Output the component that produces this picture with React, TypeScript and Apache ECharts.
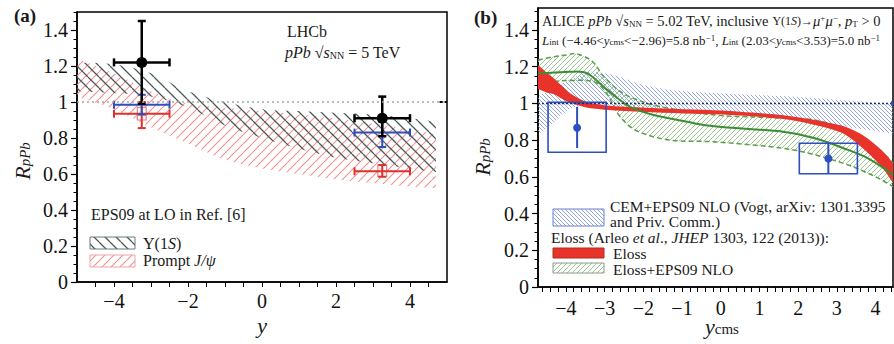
import React, { useEffect, useRef } from 'react';
import * as echarts from 'echarts';

const SERIF = 'Liberation Serif';

// ---------- tick labels ----------
const aXLabels = [-4, -2, 0, 2, 4];
const bXLabels = [-4, -3, -2, -1, 0, 1, 2, 3, 4];
const yLabels = [0, 0.2, 0.4, 0.6, 0.8, 1, 1.2, 1.4];

// ---------- panel (a): EPS09 LO bands ----------
const upsBandX = [-5, -4, -3, -2, -1, 0, 1, 2, 3, 4, 4.7];
const upsBandHi = [1.22, 1.21, 1.16, 1.06, 1.0, 0.96, 0.95, 0.94, 0.93, 0.91, 0.89];
const upsBandLo = [1.06, 1.05, 1.03, 0.97, 0.87, 0.8, 0.74, 0.69, 0.66, 0.63, 0.61];

const psiBandX = [-5, -4, -3, -2, -1, 0, 1, 2, 3, 4, 4.7];
const psiBandHi = [1.24, 1.16, 1.06, 0.99, 0.97, 0.95, 0.93, 0.91, 0.88, 0.85, 0.82];
const psiBandLo = [1.03, 0.96, 0.86, 0.77, 0.68, 0.63, 0.6, 0.57, 0.55, 0.53, 0.52];

// ---------- panel (a): LHCb points ----------
const lhcbX = [-3.25, 3.25];
const lhcbXLo = [-4, 2.5];
const lhcbXHi = [-2.5, 4];
const upsY = [1.22, 0.91];
const upsYLo = [0.99, 0.81];
const upsYHi = [1.45, 1.03];
const bPsiY = [0.985, 0.83];
const bPsiYLo = [0.93, 0.75];
const bPsiYHi = [1.04, 0.89];
const promptY = [0.935, 0.615];
const promptYLo = [0.855, 0.585];
const promptYHi = [1.0, 0.65];
const promptSysLo = [0.9, 0.585];
const promptSysHi = [0.97, 0.65];

// ---------- panel (b): CEM+EPS09 NLO band ----------
const cemX = [-4.72, -4.3, -3.9, -3.45, -3.0, -2.6, -2.16, -1.3, -0.07, 1, 2, 3, 4, 4.45];
const cemHi = [1.04, 1.08, 1.13, 1.17, 1.165, 1.145, 1.11, 1.073, 1.055, 1.045, 1.035, 1.02, 1.005, 1.0];
const cemLo = [0.83, 0.9, 0.97, 0.99, 0.99, 0.98, 0.97, 0.955, 0.948, 0.935, 0.91, 0.88, 0.85, 0.835];

// ---------- panel (b): Eloss band ----------
const elossX = [-4.72, -4.5, -4.3, -4.1, -3.9, -3.6, -3.3, -2.6, -1.5, -0.44, 0.5, 1.57, 2.43, 3.0, 3.29, 3.72, 4.15, 4.45];
const elossLo = [1.08, 1.06, 1.05, 1.025, 1.005, 0.985, 0.972, 0.96, 0.95, 0.943, 0.935, 0.916, 0.883, 0.85, 0.82, 0.747, 0.656, 0.567];
const elossHi = [1.21, 1.17, 1.135, 1.095, 1.057, 1.02, 1.0, 0.983, 0.972, 0.965, 0.955, 0.937, 0.91, 0.885, 0.867, 0.82, 0.747, 0.676];

// ---------- panel (b): Eloss+EPS09 NLO band ----------
const egCenterX = [-4.72, -4.3, -3.89, -3.45, -3.02, -2.67, -2.33, -1.73, -0.87, -0.1, 1.57, 2.43, 3.29, 3.72, 4.15, 4.45];
const egCenterY = [1.164, 1.168, 1.173, 1.164, 1.09, 1.03, 0.98, 0.937, 0.9, 0.874, 0.847, 0.81, 0.747, 0.71, 0.656, 0.61];
const egHiX = [-4.72, -4.3, -3.97, -3.72, -3.32, -3.02, -2.59, -2.16, -1.5, -0.15, 1.0, 2.43, 3.29, 3.8, 4.15, 4.45];
const egHiY = [1.237, 1.255, 1.264, 1.27, 1.23, 1.146, 1.064, 1.02, 0.98, 0.937, 0.925, 0.91, 0.846, 0.79, 0.738, 0.676];
const egLoX = [-4.72, -4.3, -3.9, -3.3, -3.0, -2.8, -2.6, -2.16, -1.3, -0.1, 1.57, 2.43, 3.29, 3.8, 4.15, 4.45];
const egLoY = [1.11, 1.12, 1.125, 1.12, 1.07, 1.0, 0.928, 0.85, 0.8, 0.79, 0.757, 0.72, 0.665, 0.62, 0.584, 0.547];

// ---------- panel (b): ALICE points ----------
const aliceX = [-3.71, 2.78];
const aliceY = [0.868, 0.7];
const aliceStatLo = [0.757, 0.617];
const aliceStatHi = [0.982, 0.783];
const aliceBinLo = [-4.46, 2.03];
const aliceBinHi = [-2.96, 3.53];
const aliceSysLo = [0.734, 0.617];
const aliceSysHi = [1.006, 0.783];

// tick positions
const aXTicks = Array.from({ length: 19 }, (_, i) => -4.5 + i * 0.5);
const bXTicks = Array.from({ length: 46 }, (_, i) => Math.round((-4.6 + i * 0.2) * 10) / 10);
const yMinorTicks = Array.from({ length: 31 }, (_, i) => Math.round(i * 5) / 100);

function hatch(size: number, color: string, lw: number, dir: string) {
  const c = document.createElement('canvas');
  c.width = size;
  c.height = size;
  const ctx = c.getContext('2d')!;
  ctx.strokeStyle = color;
  ctx.lineWidth = lw;
  ctx.beginPath();
  for (const o of [-size, 0, size]) {
    if (dir === '/') {
      ctx.moveTo(o, size);
      ctx.lineTo(o + size, 0);
    } else {
      ctx.moveTo(o, 0);
      ctx.lineTo(o + size, size);
    }
  }
  ctx.stroke();
  return { image: c, repeat: 'repeat', imageWidth: size, imageHeight: size } as any;
}

function smoothSeg(pts: number[][]) {
  let d = '';
  for (let i = 0; i < pts.length - 1; i++) {
    const p0 = pts[i - 1] || pts[i];
    const p1 = pts[i];
    const p2 = pts[i + 1];
    const p3 = pts[i + 2] || p2;
    const c1 = [p1[0] + (p2[0] - p0[0]) / 6, p1[1] + (p2[1] - p0[1]) / 6];
    const c2 = [p2[0] - (p3[0] - p1[0]) / 6, p2[1] - (p3[1] - p1[1]) / 6];
    d += ` C${c1[0]},${c1[1]} ${c2[0]},${c2[1]} ${p2[0]},${p2[1]}`;
  }
  return d;
}
function openPath(pts: number[][]) {
  return `M${pts[0][0]},${pts[0][1]}` + smoothSeg(pts);
}
function bandPath(up: number[][], lo: number[][]) {
  const lr = lo.slice().reverse();
  return openPath(up) + ` L${lr[0][0]},${lr[0][1]}` + smoothSeg(lr) + ' Z';
}

function bandSeries(ax: number, hx: number[], hy: number[], lx: number[], ly: number[], fill: any, edge?: any) {
  return {
    type: 'custom',
    xAxisIndex: ax,
    yAxisIndex: ax,
    silent: true,
    data: [[hx[0], hy[0]]],
    encode: { x: 0, y: 1 },
    renderItem: (_p: any, api: any) => {
      const up = hx.map((x, i) => api.coord([x, hy[i]]));
      const lo = lx.map((x, i) => api.coord([x, ly[i]]));
      const children: any[] = [
        { type: 'path', shape: { pathData: bandPath(up, lo) }, style: { fill, stroke: null } },
      ];
      if (edge) {
        children.push({ type: 'path', shape: { pathData: openPath(up) }, style: { fill: null, ...edge } });
        children.push({ type: 'path', shape: { pathData: openPath(lo) }, style: { fill: null, ...edge } });
      }
      return { type: 'group', children };
    },
  };
}

function curveSeries(ax: number, xs: number[], ys: number[], style: any) {
  return {
    type: 'custom',
    xAxisIndex: ax,
    yAxisIndex: ax,
    silent: true,
    data: [[xs[0], ys[0]]],
    encode: { x: 0, y: 1 },
    renderItem: (_p: any, api: any) => {
      const pts = xs.map((x, i) => api.coord([x, ys[i]]));
      return { type: 'path', shape: { pathData: openPath(pts) }, style: { fill: null, ...style } };
    },
  };
}

function ln(x1: number, y1: number, x2: number, y2: number, stroke: string, lineWidth: number) {
  return { type: 'line', shape: { x1, y1, x2, y2 }, style: { stroke, lineWidth } };
}

function lhcbSeries(ys: number[], lo: number[], hi: number[], color: string, lw: number, kind: string, sysLo?: number[], sysHi?: number[]) {
  return {
    type: 'custom',
    xAxisIndex: 0,
    yAxisIndex: 0,
    silent: true,
    data: lhcbX.map((x, i) => [x, ys[i], lhcbXLo[i], lhcbXHi[i], lo[i], hi[i], sysLo ? sysLo[i] : ys[i], sysHi ? sysHi[i] : ys[i]]),
    encode: { x: 0, y: 1 },
    renderItem: (_p: any, api: any) => {
      const x = api.value(0);
      const y = api.value(1);
      const c = api.coord([x, y]);
      const l = api.coord([api.value(2), y]);
      const r = api.coord([api.value(3), y]);
      const b = api.coord([x, api.value(4)]);
      const t = api.coord([x, api.value(5)]);
      const cap = 4;
      const ch: any[] = [];
      if (kind === 'box') {
        const s1 = api.coord([x - 0.12, api.value(7)]);
        const s2 = api.coord([x + 0.12, api.value(6)]);
        ch.push({
          type: 'rect',
          shape: { x: s1[0], y: s1[1], width: s2[0] - s1[0], height: s2[1] - s1[1] },
          style: { fill: 'rgba(255,255,255,0.75)', stroke: '#e98080', lineWidth: 1.2 },
        });
      }
      ch.push(ln(l[0], c[1], r[0], c[1], color, lw));
      ch.push(ln(c[0], b[1], c[0], t[1], color, lw));
      ch.push(ln(l[0], c[1] - cap, l[0], c[1] + cap, color, lw));
      ch.push(ln(r[0], c[1] - cap, r[0], c[1] + cap, color, lw));
      ch.push(ln(c[0] - cap, t[1], c[0] + cap, t[1], color, lw));
      ch.push(ln(c[0] - cap, b[1], c[0] + cap, b[1], color, lw));
      if (kind === 'dot') {
        ch.push({ type: 'circle', shape: { cx: c[0], cy: c[1], r: 5.5 }, style: { fill: color } });
      }
      return { type: 'group', children: ch };
    },
  };
}

const aliceSeries = {
  type: 'custom',
  xAxisIndex: 1,
  yAxisIndex: 1,
  silent: true,
  data: aliceX.map((x, i) => [x, aliceY[i], aliceStatLo[i], aliceStatHi[i], aliceBinLo[i], aliceBinHi[i], aliceSysLo[i], aliceSysHi[i]]),
  encode: { x: 0, y: 1 },
  renderItem: (_p: any, api: any) => {
    const x = api.value(0);
    const y = api.value(1);
    const c = api.coord([x, y]);
    const b = api.coord([x, api.value(2)]);
    const t = api.coord([x, api.value(3)]);
    const p1 = api.coord([api.value(4), api.value(7)]);
    const p2 = api.coord([api.value(5), api.value(6)]);
    const col = '#2d4fc0';
    return {
      type: 'group',
      children: [
        { type: 'rect', shape: { x: p1[0], y: p1[1], width: p2[0] - p1[0], height: p2[1] - p1[1] }, style: { fill: null, stroke: col, lineWidth: 1.6 } },
        ln(c[0], b[1], c[0], t[1], col, 2),
        { type: 'circle', shape: { cx: c[0], cy: c[1], r: 4 }, style: { fill: col } },
      ],
    };
  },
};

const txt = (x: number, y: number, text: string, size: number, rich: any = {}, extra: any = {}) => ({
  type: 'text',
  x,
  y,
  silent: true,
  ...extra,
  style: {
    text,
    fontFamily: SERIF,
    fontSize: size,
    lineHeight: size,
    fill: '#1a1a1a',
    align: 'left',
    verticalAlign: 'middle',
    rich,
    ...(extra.style || {}),
  },
});

const richBase = (size: number, small?: number) => {
  const s = small || Math.round(size * 0.65);
  return {
    i: { fontStyle: 'italic', fontFamily: SERIF, fontSize: size },
    sub: { fontFamily: SERIF, fontSize: s, verticalAlign: 'bottom', lineHeight: Math.round(size * 0.7) },
    sup: { fontFamily: SERIF, fontSize: s, verticalAlign: 'top', lineHeight: Math.round(size * 0.7) },
    sm: { fontFamily: SERIF, fontSize: Math.round(size * 0.8) },
    smi: { fontFamily: SERIF, fontStyle: 'italic', fontSize: Math.round(size * 0.8) },
  };
};

export default function App() {
  const ref = useRef<HTMLDivElement>(null);
  useEffect(() => {
    if (!ref.current) return;
    const chart = echarts.init(ref.current, null, { renderer: 'svg' });

    const greyHatch = hatch(11, '#4a5a5a', 1.3, '\\');
    const redHatch = hatch(9, '#f29090', 1.1, '/');
    const blueHatch = hatch(4, '#7890dc', 0.8, '\\');
    const greenHatch = hatch(5, '#93c285', 0.9, '/');

    const xAxisBase = (grid: number, min: number, max: number, ticks: number[], labels: number[], margin: number) => ({
      type: 'value',
      gridIndex: grid,
      min,
      max,
      splitLine: { show: false },
      axisLine: { show: true, onZero: false, lineStyle: { color: '#000', width: 1.5 } },
      axisTick: { show: true, customValues: ticks, length: 5, lineStyle: { color: '#000', width: 1 } },
      axisLabel: {
        customValues: labels,
        margin,
        fontFamily: SERIF,
        fontSize: 20,
        color: '#111',
        formatter: (v: number) => (v < 0 ? '\u2212' + Math.abs(v) : String(v)),
      },
    });
    const yAxisBase = (grid: number, max: number) => ({
      type: 'value',
      gridIndex: grid,
      min: 0,
      max,
      position: 'left',
      splitLine: { show: false },
      axisLine: { show: true, onZero: false, lineStyle: { color: '#000', width: 1.5 } },
      axisTick: { show: true, customValues: yMinorTicks, length: 3.5, lineStyle: { color: '#000', width: 1 } },
      axisLabel: { customValues: yLabels, margin: 9, fontFamily: SERIF, fontSize: 20, color: '#111' },
    });
    const yMajor = (grid: number, max: number) => ({
      type: 'value',
      gridIndex: grid,
      min: 0,
      max,
      position: 'left',
      splitLine: { show: false },
      axisLine: { show: false, onZero: false },
      axisTick: { show: true, customValues: yLabels, length: 6, lineStyle: { color: '#000', width: 1.2 } },
      axisLabel: { show: false },
    });

    const rA = richBase(16);
    const rL = richBase(15.5);
    const rB = richBase(14.5);
    const rC = richBase(13, 9);
    const rAx = {
      i: { fontStyle: 'italic', fontFamily: SERIF, fontSize: 22 },
      sub: { fontFamily: SERIF, fontSize: 15, verticalAlign: 'bottom', lineHeight: 14 },
      isub: { fontFamily: SERIF, fontStyle: 'italic', fontSize: 15, verticalAlign: 'bottom', lineHeight: 14 },
    };

    const option: any = {
      animation: false,
      backgroundColor: '#fff',
      textStyle: { fontFamily: SERIF },
      grid: [
        { left: 77, top: 12, width: 370, height: 270, show: true, borderColor: '#000', borderWidth: 1.5, backgroundColor: 'transparent' },
        { left: 538, top: 8, width: 355, height: 279, show: true, borderColor: '#000', borderWidth: 1.5, backgroundColor: 'transparent' },
      ],
      xAxis: [
        xAxisBase(0, -5, 5, aXTicks, aXLabels, 9),
        xAxisBase(1, -4.72, 4.45, bXTicks, bXLabels, 11),
      ],
      yAxis: [yAxisBase(0, 1.5), yAxisBase(1, 1.52), yMajor(0, 1.5), yMajor(1, 1.52)],
      series: [
        // panel (a)
        bandSeries(0, psiBandX, psiBandHi, psiBandX, psiBandLo, redHatch),
        bandSeries(0, upsBandX, upsBandHi, upsBandX, upsBandLo, greyHatch),
        {
          type: 'line', xAxisIndex: 0, yAxisIndex: 0, silent: true, symbol: 'none',
          data: [[-5, 1], [5, 1]],
          lineStyle: { color: '#a8a8a8', width: 1.6, type: [2, 3] },
        },
        {
          type: 'line', xAxisIndex: 0, yAxisIndex: 0, silent: true, symbol: 'none',
          data: [[4.8, 1], [5, 1]],
          lineStyle: { color: '#000', width: 2, type: [3, 2] },
        },
        lhcbSeries(promptY, promptYLo, promptYHi, '#e0302c', 2, 'box', promptSysLo, promptSysHi),
        lhcbSeries(bPsiY, bPsiYLo, bPsiYHi, '#2d4fc0', 2, 'none'),
        lhcbSeries(upsY, upsYLo, upsYHi, '#000', 2.5, 'dot'),
        // panel (b)
        bandSeries(1, cemX, cemHi, cemX, cemLo, blueHatch),
        bandSeries(1, egHiX, egHiY, egLoX, egLoY, greenHatch, { stroke: '#5a9e4a', lineWidth: 1.5, lineDash: [5, 3] }),
        bandSeries(1, elossX, elossHi, elossX, elossLo, '#e8332b'),
        curveSeries(1, egCenterX, egCenterY, { stroke: '#3b8d34', lineWidth: 2 }),
        {
          type: 'line', xAxisIndex: 1, yAxisIndex: 1, silent: true, symbol: 'none',
          data: [[-4.72, 1], [4.45, 1]],
          lineStyle: { color: '#1f2d6e', width: 1.5, type: [2, 2] },
        },
        {
          type: 'line', xAxisIndex: 1, yAxisIndex: 1, silent: true, symbol: 'none',
          data: [[4.4, 1], [4.45, 1]],
          lineStyle: { color: '#2d4fc0', width: 5 },
        },
        aliceSeries,
      ],
      graphic: [
        // panel (a) texts
        txt(14, 15, '(a)', 19, {}, { style: { fontWeight: 'bold' } }),
        txt(287, 31, 'LHCb', 16),
        txt(285, 52, '{i|pPb} \u221A{i|s}{sub|NN} = 5 TeV', 16, rA),
        txt(91, 214, 'EPS09 at LO in Ref. [6]', 16),
        { type: 'rect', silent: true, shape: { x: 90, y: 237, width: 45, height: 12 }, style: { fill: greyHatch, stroke: '#6a7a7a', lineWidth: 1 } },
        { type: 'rect', silent: true, shape: { x: 90, y: 255, width: 45, height: 12 }, style: { fill: redHatch, stroke: '#f0a4a4', lineWidth: 1 } },
        txt(143, 243, '\u03A5(1{i|S})', 16, rA),
        txt(143, 260, 'Prompt {i|J/\u03C8}', 16, rA),
        txt(262, 325, '{i|y}', 20, rAx, { style: { align: 'center', lineHeight: 16 } }),
        txt(22, 161, '{i|R}{isub|pPb}', 20, rAx, { rotation: Math.PI / 2, style: { align: 'center' } }),
        // panel (b) texts
        txt(474, 17, '(b)', 19, {}, { style: { fontWeight: 'bold' } }),
        txt(542, 21, 'ALICE {i|pPb} \u221A{i|s}{sub|NN} = 5.02 TeV, inclusive {sm|\u03A5(1}{smi|S}{sm|)\u2192}{i|\u03BC}{sup|+}{i|\u03BC}{sup|\u2212}, {i|p}{sub|T} > 0', 14.5, rB),
        txt(542, 40, '{i|L}{sub|int} (\u22124.46<{i|y}{sub|cms}<\u22122.96)=5.8 nb{sup|\u22121}, {i|L}{sub|int} (2.03<{i|y}{sub|cms}<3.53)=5.0 nb{sup|\u22121}', 13, rC),
        { type: 'rect', silent: true, shape: { x: 553, y: 209, width: 51, height: 17 }, style: { fill: blueHatch, stroke: '#6a80d0', lineWidth: 1 } },
        txt(610, 206, 'CEM+EPS09 NLO (Vogt, arXiv: 1301.3395', 15.5),
        txt(610, 221.5, 'and Priv. Comm.)', 15.5),
        txt(551, 237, 'Eloss (Arleo {i|et al}., {i|JHEP} 1303, 122 (2013)):', 15.5, rL),
        { type: 'rect', silent: true, shape: { x: 553, y: 248, width: 51, height: 10 }, style: { fill: '#e8332b', stroke: '#b42a22', lineWidth: 1 } },
        txt(613, 253, 'Eloss', 15.5),
        { type: 'rect', silent: true, shape: { x: 553, y: 263, width: 51, height: 10 }, style: { fill: greenHatch, stroke: '#8a9a8a', lineWidth: 1 } },
        txt(613, 269, 'Eloss+EPS09 NLO', 15.5),
        txt(722, 326, '{i|y}{sub|cms}', 20, rAx, { style: { align: 'center' } }),
        txt(482, 157, '{i|R}{isub|pPb}', 20, rAx, { rotation: Math.PI / 2, style: { align: 'center' } }),
      ],
    };
    chart.setOption(option);
    return () => chart.dispose();
  }, []);
  return <div ref={ref} style={{ position: 'fixed', left: 0, top: 0, width: 894, height: 344 }} />;
}
